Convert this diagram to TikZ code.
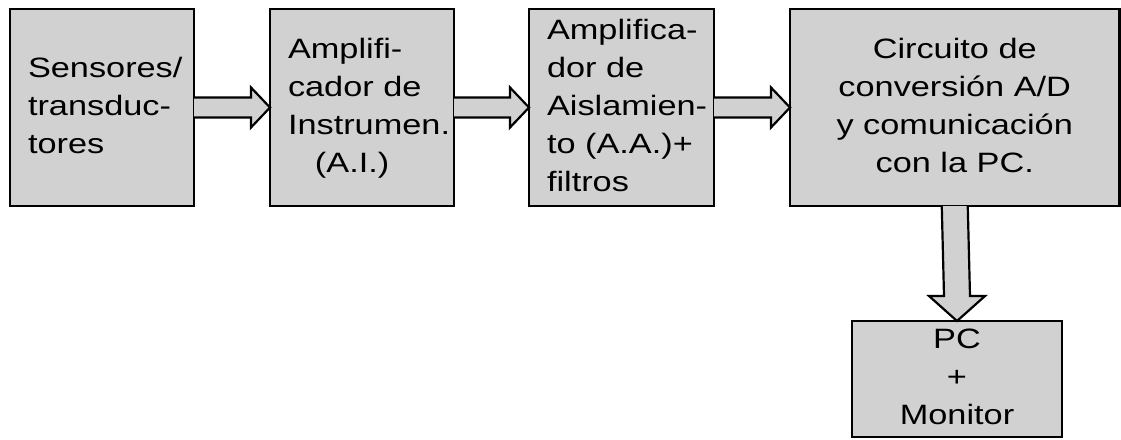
\documentclass[tikz,border=0pt]{standalone}
\usepackage{graphicx}
\usepackage{fontspec}
\setmainfont{Liberation Sans}
\usetikzlibrary{calc}
\definecolor{boxfill}{gray}{0.82}
\newcommand\ltext[2]{\scalebox{1.225}[1]{\makebox[#1][l]{\begin{tabular}{@{}l@{}}#2\end{tabular}}}}
\newcommand\ctext[1]{\scalebox{1.225}[1]{\begin{tabular}{@{}c@{}}#1\end{tabular}}}
\tikzset{
  blk/.style={draw=black, line width=2.4pt, fill=boxfill, outer sep=0pt,
    font=\fontsize{28}{38}\selectfont, inner sep=0pt, align=center},
  barrow/.style={draw=black, line width=2.2pt, fill=boxfill, line join=miter}
}
\begin{document}
\begin{tikzpicture}[x=1pt,y=-1pt]
\useasboundingbox (0,0) rectangle (1121,439);
\node[blk, minimum width=184pt, minimum height=197pt] (b1) at (102,107.5)
  {\ltext{120.8pt}{Sensores/\\transduc-\\tores}};
\node[blk, minimum width=184pt, minimum height=197pt] (b2) at (362,107.5)
  {\ltext{120.8pt}{Amplifi-\\cador de\\Instrumen.\\\hspace*{22pt}(A.I.)}};
\node[blk, minimum width=185pt, minimum height=197pt] (b3) at (621.5,107.5)
  {\ltext{121.6pt}{Amplifica-\\dor de\\Aislamien-\\to (A.A.)+\\filtros}};
\node[blk, minimum width=329.5pt, minimum height=197pt] (b4) at (954.75,107.5)
  {\ctext{Circuito de\\conversión A/D\\y comunicación\\con la PC.}};
\node[blk, minimum width=210pt, minimum height=116pt] (b5) at (957,379)
  {\ctext{PC\\+\\Monitor}};
% horizontal block arrows
\foreach \a/\b in {b1/b2, b2/b3, b3/b4}{
  \draw[barrow] ($(\a.east)+(0,-10)$) -- ($(\b.west)+(-19,-10)$) -- ($(\b.west)+(-19,-20)$)
    -- (\b.west) -- ($(\b.west)+(-19,20)$) -- ($(\b.west)+(-19,10)$) -- ($(\a.east)+(0,10)$);
}
% vertical block arrow
\draw[barrow] ($(b4.south)+(-13,0)$) -- ($(b5.north)+(-13,-25)$) -- ($(b5.north)+(-28,-25)$)
  -- (b5.north) -- ($(b5.north)+(28,-25)$) -- ($(b5.north)+(13,-25)$) -- ($(b4.south)+(13,0)$);
\end{tikzpicture}
\end{document}
